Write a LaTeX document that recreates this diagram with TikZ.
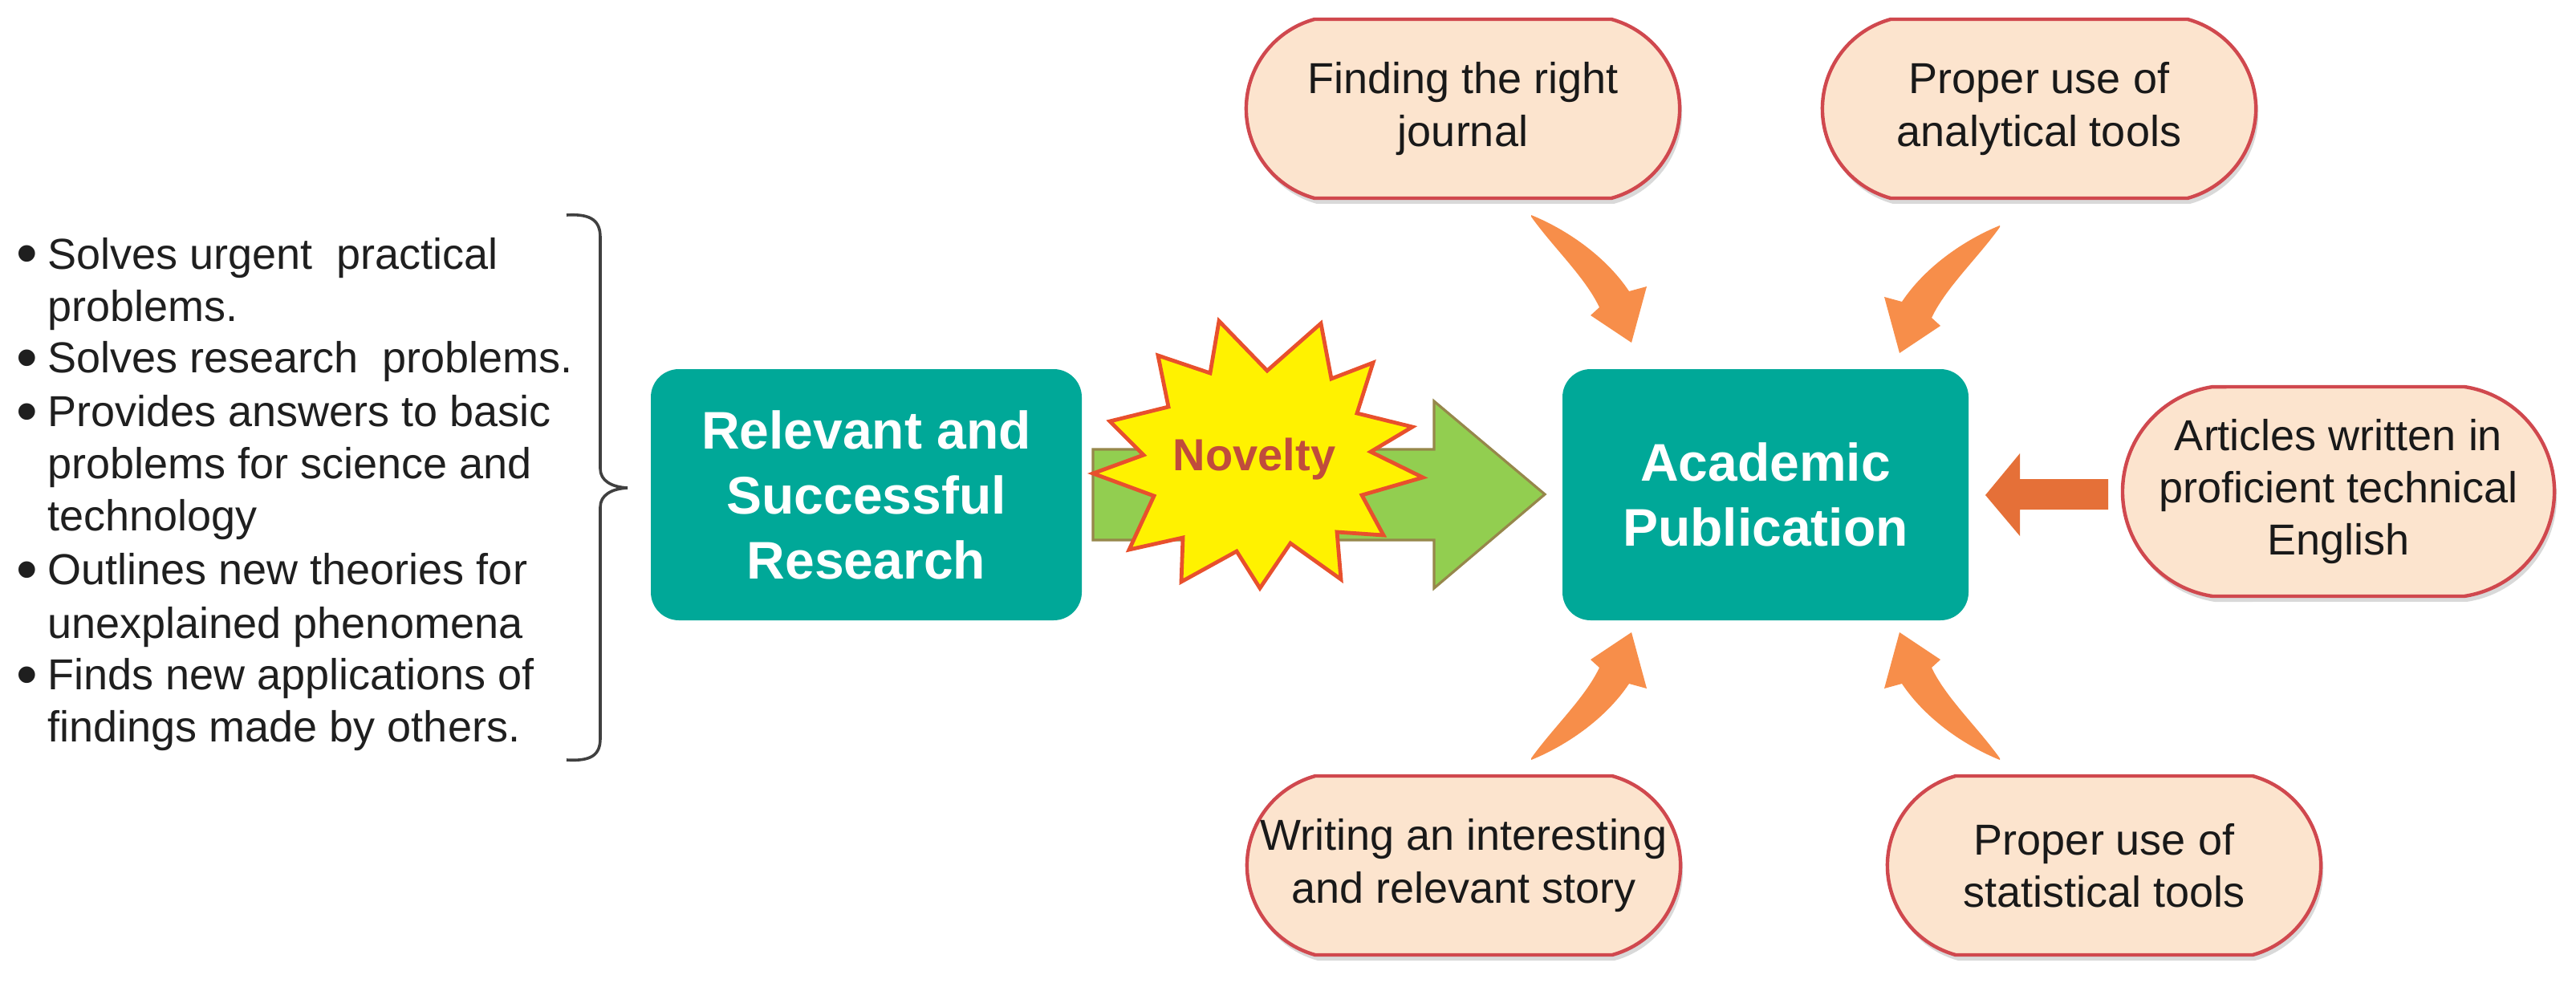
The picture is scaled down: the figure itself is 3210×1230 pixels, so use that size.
\documentclass[tikz,border=0pt]{standalone}
\usepackage{fontspec}
\setmainfont{Liberation Sans}
\definecolor{teal1}{RGB}{0,168,152}
\definecolor{peach}{RGB}{252,228,206}
\definecolor{bubred}{RGB}{208,72,78}
\definecolor{orng}{RGB}{247,142,74}
\definecolor{orngdark}{RGB}{229,112,56}
\definecolor{grn}{RGB}{146,206,80}
\definecolor{grnline}{RGB}{150,135,75}
\definecolor{starline}{RGB}{232,80,45}
\definecolor{novred}{RGB}{192,76,60}
\definecolor{bracec}{RGB}{64,64,64}

% name, cx, cy, w, h, s(bulge), R(arc radius), A(half angle), text
\newcommand\mybub[9]{%
  \pgfmathsetmacro\bXr{#2+#4/2-#6}%
  \pgfmathsetmacro\bXl{#2-#4/2+#6}%
  \pgfmathsetmacro\bYt{#3-#5/2}%
  \pgfmathsetmacro\bYb{#3+#5/2}%
  \fill[bubshadow] (\bXr+3,\bYt+7) arc[start angle=-#8,end angle=#8,radius=#7] -- (\bXl+3,\bYb+7) arc[start angle=180-#8,end angle=180+#8,radius=#7] -- cycle;
  \draw[bubstyle] (\bXr,\bYt) arc[start angle=-#8,end angle=#8,radius=#7] -- (\bXl,\bYb) arc[start angle=180-#8,end angle=180+#8,radius=#7] -- cycle;
  \node[bubtext] (#1) at (#2,#3) {#9};
}

\newcommand\carrowpath{%
  \fill[orng] (1908,268) .. controls (1950,285) and (2000,318) .. (2030,363)
    -- (2052,357) -- (2033,427) -- (1982,393) -- (1993,383)
    .. controls (1975,345) and (1935,308) .. (1908,270) -- cycle;
}

\newcommand\bulmark{\llap{\raisebox{-1.75pt}{\fontsize{19pt}{19pt}\selectfont\textbullet}\hspace{3.2pt}}}

\begin{document}
\begin{tikzpicture}[x=0.25pt,y=-0.25pt,
  tealbox/.style={fill=teal1, rounded corners=8.75pt, text=white,
    font=\fontsize{16.5pt}{20.25pt}\selectfont\bfseries, align=center, inner sep=0pt},
  bubstyle/.style={fill=peach, draw=bubred, line width=1.1pt},
  bubshadow/.style={fill=black, opacity=0.15},
  bubtext/.style={font=\fontsize{13.5pt}{16.35pt}\selectfont, align=center, inner sep=0pt, text=black!90},
  listtext/.style={font=\fontsize{13.5pt}{16.35pt}\selectfont, inner sep=0pt, text=black!88},
  bracestyle/.style={draw=bracec, line width=0.9pt},
]
\useasboundingbox (0,0) rectangle (3210,1230);
\fill[white] (0,0) rectangle (3210,1230);

% bullet list
\foreach \nm/\yy/\txt in {
  l1/335/{\bulmark Solves urgent\ \ practical},
  l2/400/{problems.},
  l3/464/{\bulmark Solves research\ \ problems.},
  l4/531/{\bulmark Provides answers to basic},
  l5/596/{problems for science and},
  l6/661/{technology},
  l7/728/{\bulmark Outlines new theories for},
  l8/795/{unexplained phenomena},
  l9/859/{\bulmark Finds new applications of},
  l10/924/{findings made by others.}}{
  \node[listtext, anchor=base west] (\nm) at (59,\yy) {\txt};
}

% brace
\draw[bracestyle] (706,268) .. controls (738,266) and (748,276) .. (748,296)
  -- (748,584) .. controls (748,599) and (762,607) .. (782,608)
  .. controls (762,609) and (748,617) .. (748,632)
  -- (748,920) .. controls (748,940) and (738,949) .. (706,947);

% main boxes
\node[tealbox, minimum width=134.25pt, minimum height=78.25pt] (rel) at (1079.5,616.5) {Relevant and\\Successful\\Research};
\node[tealbox, minimum width=126.5pt, minimum height=78.25pt] (acad) at (2200,616.5) {Academic\\Publication};

% green arrow
\draw[fill=grn, draw=grnline, line width=0.8pt, line join=miter]
  (1362,560) -- (1787,560) -- (1787,500) -- (1925,616) -- (1787,733) -- (1787,673) -- (1362,673) -- cycle;

% star
\draw[fill=yellow, draw=starline, line width=1.2pt, line join=miter]
  (1519,400) -- (1579,462) -- (1646,403) -- (1659,472) -- (1711,452) -- (1691,515)
  -- (1760,532) -- (1708,563) -- (1773,595) -- (1697,617) -- (1724,667) -- (1666,663)
  -- (1671,722) -- (1608,677) -- (1570,733) -- (1541,687) -- (1472,725) -- (1474,670)
  -- (1407,685) -- (1438,618) -- (1362,590) -- (1425,567) -- (1383,525) -- (1456,507)
  -- (1443,443) -- (1508,465) -- cycle;
\node[font=\fontsize{14pt}{16pt}\selectfont\bfseries, text=novred, inner sep=0pt] (nov) at (1563,572) {Novelty};

% bubbles
\mybub{jour}{1823}{135.5}{540}{223}{85}{115.6}{74.7}{Finding the right\\journal}
\mybub{anal}{2541}{135.5}{540}{223}{85}{115.6}{74.7}{Proper use of\\analytical tools}
\mybub{engl}{2914}{612.5}{538}{261}{112}{132.0}{81.3}{Articles written in\\proficient technical\\English}
\mybub{story}{1824}{1078.5}{540}{223}{85}{115.6}{74.7}{Writing an interesting\\and relevant story}
\mybub{stat}{2622}{1078.5}{540}{223}{85}{115.6}{74.7}{Proper use of\\statistical tools}

% curved arrows
\carrowpath
\begin{scope}[shift={(4400,13)}, xscale=-1]\carrowpath\end{scope}
\begin{scope}[shift={(0,1215)}, yscale=-1]\carrowpath\end{scope}
\begin{scope}[shift={(4400,1215)}, xscale=-1, yscale=-1]\carrowpath\end{scope}

% straight arrow from English bubble
\fill[orngdark] (2627,597) -- (2517,597) -- (2517,565) -- (2474,617) -- (2517,668) -- (2517,635) -- (2627,635) -- cycle;
\end{tikzpicture}
\end{document}
